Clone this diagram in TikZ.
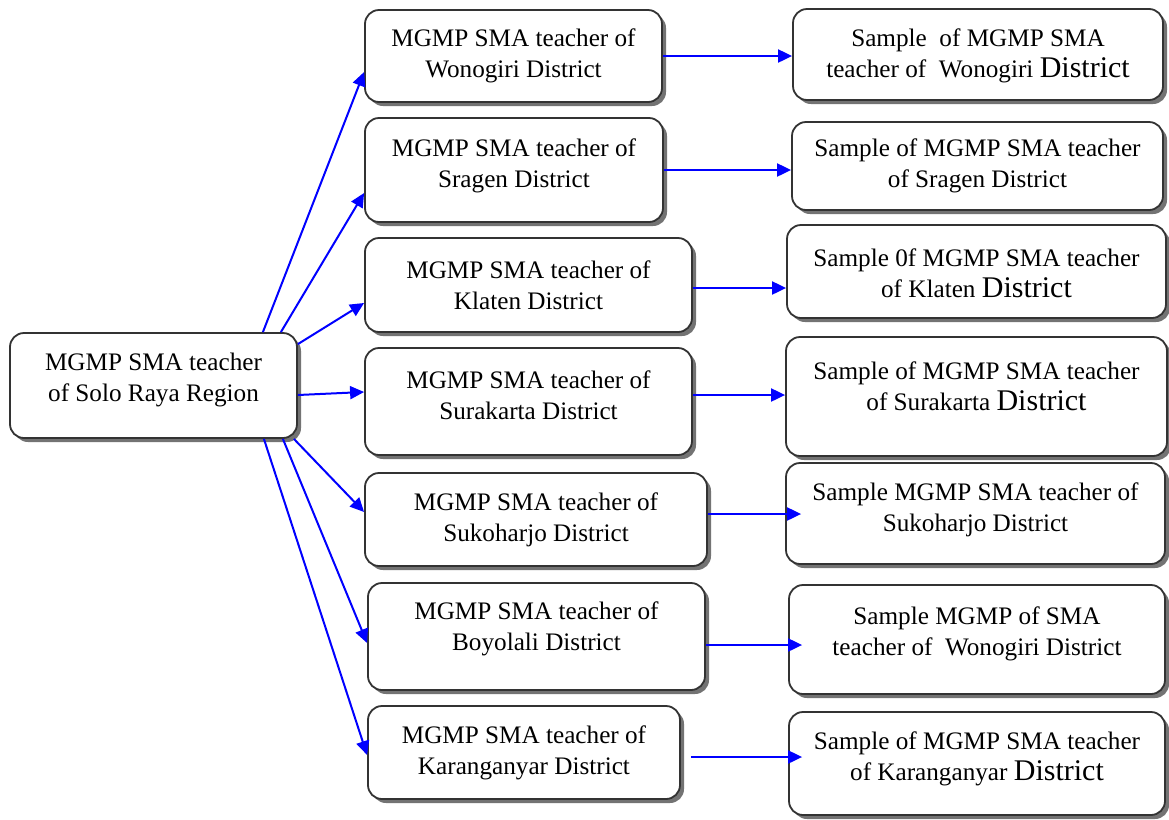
\documentclass[tikz,border=0pt]{standalone}
\usepackage{fontspec}
\setmainfont{Liberation Serif}
\usetikzlibrary{shadows,arrows.meta,calc}
\tikzset{
  box/.style={draw=black!80, line width=0.9pt, rounded corners=7pt, fill=white, inner sep=0pt,
    drop shadow={shadow xshift=2pt, shadow yshift=-2pt, fill=black, opacity=0.55}},
  txt/.style={align=center, font=\fontsize{12.6}{15.5}\selectfont, inner sep=0pt},
  conn/.style={draw=blue, line width=1pt, -{Triangle[length=7pt,width=6.5pt]}},
}
\newcommand\Dis{{\fontsize{15}{15.5}\selectfont District}}
\newcommand\tbox[7]{%
  \node[box, minimum width={(#4-#2)*0.5pt}, minimum height={(#5-#3)*0.5pt}] (#1) at ({(#2+#4)/2},{(#3+#5)/2}) {};
  \node[txt] (#1t) at ($(#1.center)+(0,#6)$) {#7};
}
\begin{document}
\begin{tikzpicture}[x=0.5pt,y=-0.5pt]
\useasboundingbox (0,0) rectangle (1169,820);
% left
\tbox{L}{10}{333}{297}{438}{-6}{MGMP SMA teacher\\of Solo Raya Region}
% middle
\tbox{m1}{365}{10}{662}{102}{0}{MGMP SMA teacher of\\Wonogiri District}
\tbox{m2}{365}{118}{663}{222}{-4.5}{MGMP SMA teacher of\\Sragen District}
\tbox{m3}{365}{238}{692}{332}{0}{MGMP SMA teacher of\\Klaten District}
\tbox{m4}{365}{348}{692}{455}{-6}{MGMP SMA teacher of\\Surakarta District}
\tbox{m5}{365}{473}{707}{566}{0}{MGMP SMA teacher of\\Sukoharjo District}
\tbox{m6}{368}{583}{705}{690}{-7.5}{MGMP SMA teacher of\\Boyolali District}
\tbox{m7}{368}{706}{680}{799}{0}{MGMP SMA teacher of\\Karanganyar District}
% right
\tbox{r1}{793}{9}{1163}{100}{1}{Sample\ \ of MGMP SMA\\teacher of\ \ Wonogiri \Dis}
\tbox{r2}{792}{122}{1163}{210}{0}{Sample of MGMP SMA teacher\\of Sragen District}
\tbox{r3}{787}{225}{1166}{318}{2}{Sample 0f MGMP SMA teacher\\of Klaten \Dis}
\tbox{r4}{786}{337}{1167}{456}{-10}{Sample of MGMP SMA teacher\\of Surakarta \Dis}
\tbox{r5}{786}{463}{1165}{564}{-4}{Sample MGMP SMA teacher of\\Sukoharjo District}
\tbox{r6}{789}{585}{1165}{694}{-6}{Sample MGMP of SMA\\teacher of\ \ Wonogiri District}
\tbox{r7}{789}{712}{1165}{815}{-4.5}{Sample of MGMP SMA teacher\\of Karanganyar \Dis}
% fan-out connectors
\draw[conn] ([xshift=-17.5pt]L.north east) -- ([yshift=-8pt]m1.west);
\draw[conn] ([xshift=-8.5pt]L.north east) -- ([yshift=-11.5pt]m2.west);
\draw[conn] ([yshift=-6pt]L.north east) -- ([yshift=-9pt]m3.west);
\draw[conn] ([yshift=-4.75pt]L.east) -- ([yshift=4.75pt]m4.west);
\draw[conn] ([xshift=-2pt]L.south east) -- ([yshift=3.75pt]m5.west);
\draw[conn] ([xshift=-7.5pt]L.south east) -- ([yshift=-3.25pt]m6.west);
\draw[conn] ([xshift=-17pt]L.south east) -- ([yshift=-1.25pt]m7.west);
% horizontal connectors
\draw[conn] (m1.east) -- (m1.east -| r1.west);
\draw[conn] (m2.east) -- (m2.east -| r2.west);
\draw[conn] ([yshift=-1.5pt]m3.east) -- ([yshift=-1.5pt]m3.east -| r3.west);
\draw[conn] ([yshift=3.25pt]m4.east) -- ([yshift=3.25pt]m4.east -| r4.west);
\draw[conn] ([yshift=2.75pt]m5.east) -- ([yshift=2.75pt,xshift=8pt]m5.east -| r5.west);
\draw[conn] ([yshift=-4.25pt]m6.east) -- ([yshift=-4.25pt,xshift=7pt]m6.east -| r6.west);
\draw[conn] ([yshift=-2.25pt,xshift=5pt]m7.east) -- ([yshift=-2.25pt,xshift=7pt]m7.east -| r7.west);
\end{tikzpicture}
\end{document}
